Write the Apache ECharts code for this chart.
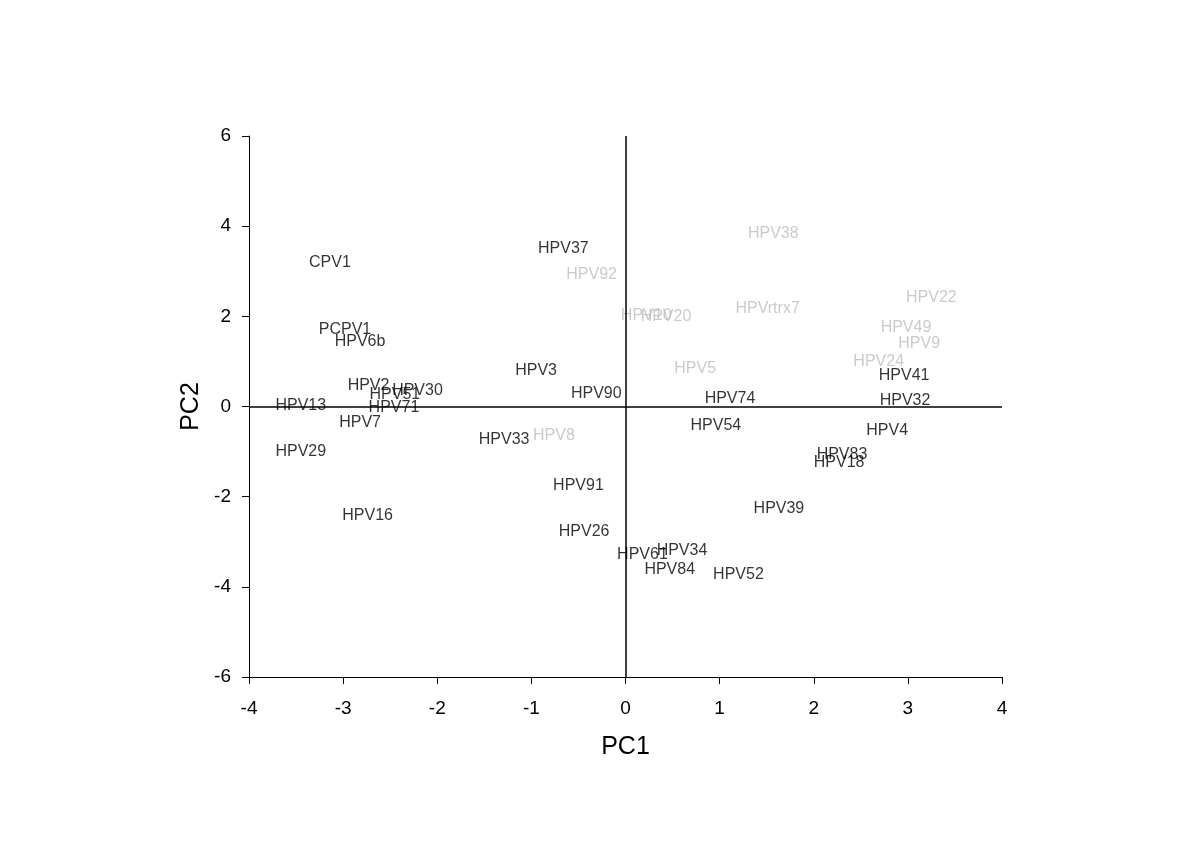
<!DOCTYPE html>
<html>
<head>
<meta charset="utf-8">
<script src="https://cdn.jsdelivr.net/npm/echarts@6/dist/echarts.min.js"></script>
<style>html,body{margin:0;padding:0;background:#fff}#c{width:1200px;height:848px}</style>
</head>
<body>
<div id="c"></div>
<script>
// Black labels (group A)
var blackNames = ['CPV1','HPV37','PCPV1','HPV6b','HPV3','HPV90','HPV74','HPV41','HPV32','HPV2','HPV30','HPV51','HPV71','HPV13','HPV7','HPV29','HPV33','HPV54','HPV4','HPV83','HPV18','HPV91','HPV39','HPV16','HPV26','HPV34','HPV61','HPV84','HPV52'];
var blackX = [-3.14,-0.66,-2.98,-2.82,-0.95,-0.31,1.11,2.96,2.97,-2.73,-2.21,-2.45,-2.46,-3.45,-2.82,-3.45,-1.29,0.96,2.78,2.30,2.27,-0.50,1.63,-2.74,-0.44,0.60,0.18,0.47,1.20];
var blackY = [3.23,3.54,1.74,1.48,0.83,0.34,0.21,0.74,0.17,0.50,0.39,0.30,0.03,0.06,-0.32,-0.96,-0.68,-0.39,-0.50,-1.03,-1.21,-1.70,-2.23,-2.38,-2.74,-3.16,-3.25,-3.58,-3.69];
// Gray labels (group B)
var grayNames = ['HPV92','HPV38','HPV22','HPVrtrx7','HPV10','HPV20','HPV49','HPV9','HPV24','HPV5','HPV8'];
var grayX = [-0.36,1.57,3.25,1.51,0.22,0.43,2.98,3.12,2.69,0.74,-0.76];
var grayY = [2.98,3.89,2.45,2.21,2.05,2.03,1.79,1.45,1.05,0.88,-0.59];

var xTicks = [-4,-3,-2,-1,0,1,2,3,4];
var yTicks = [-6,-4,-2,0,2,4,6];

function build(names, xs, ys){
  return names.map(function(n,i){ return {name:n, value:[xs[i], ys[i]]}; });
}
var FONT = 'Liberation Sans, Arial, sans-serif';
var chart = echarts.init(document.getElementById('c'), null, {renderer:'canvas'});
function labelCfg(color){
  return {show:true, position:'inside', offset:[0,2], formatter:function(p){return p.name;}, color:color, fontFamily:FONT, fontSize:16};
}
chart.setOption({
  animation:false,
  backgroundColor:'#ffffff',
  grid:{left:249, right:198, top:136, bottom:171},
  xAxis:{type:'value', min:-4, max:4, interval:1,
    name:'PC1', nameLocation:'middle', nameGap:58,
    nameTextStyle:{fontFamily:FONT, fontSize:25, color:'#000'},
    axisLine:{onZero:false, lineStyle:{color:'#000', width:1}},
    axisTick:{show:true, length:7, lineStyle:{color:'#000'}},
    axisLabel:{fontFamily:FONT, fontSize:19, color:'#000', margin:22},
    splitLine:{show:false}},
  yAxis:{type:'value', min:-6, max:6, interval:2,
    name:'PC2', nameLocation:'middle', nameGap:40,
    nameTextStyle:{fontFamily:FONT, fontSize:25, color:'#000'},
    axisLine:{onZero:false, lineStyle:{color:'#000', width:1}},
    axisTick:{show:true, length:7, lineStyle:{color:'#000'}},
    axisLabel:{fontFamily:FONT, fontSize:19, color:'#000', margin:18},
    splitLine:{show:false}},
  series:[
    {type:'scatter', symbolSize:0, data:build(blackNames, blackX, blackY), label:labelCfg('#000000'),
     markLine:{silent:true, symbol:'none', label:{show:false}, lineStyle:{color:'#000', width:1.5, type:'solid'},
       data:[{xAxis:0},{yAxis:0}]}},
    {type:'scatter', symbolSize:0, data:build(grayNames, grayX, grayY), label:labelCfg('#bdbdbd')}
  ]
});
</script>
</body>
</html>
